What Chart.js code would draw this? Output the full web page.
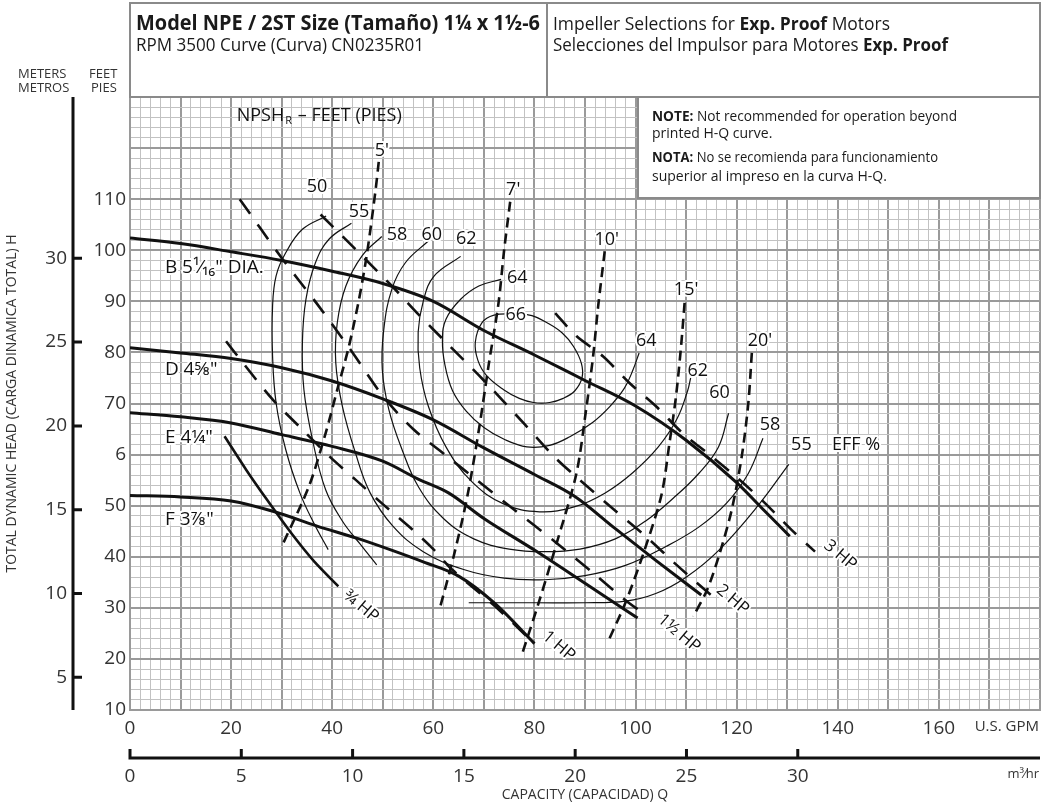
<!DOCTYPE html>
<html>
<head>
<meta charset="utf-8">
<script src="https://cdn.jsdelivr.net/npm/chart.js@4.4.1/dist/chart.umd.min.js"></script>
<style>
  html, body { margin: 0; padding: 0; background: #fff; }
  canvas { display: block; }
</style>
</head>
<body>
<canvas id="pumpChart" width="1047" height="805"></canvas>
<script>
// impeller head-capacity curves, [GPM, feet]
var curveB = [[0,102.4],[10,101.3],[20,99.7],[30,98],[40,95.9],[50,93.5],[60,90],[70,84.3],[80,79.5],[90,74.5],[100,69.5],[110,62.8],[120,54.5],[125,49.5],[130.5,44]];
var curveD = [[0,80.9],[10,79.9],[20,78.8],[30,77],[40,74.4],[50,70.9],[60,66.8],[70,61.3],[80,56.1],[88,51.8],[96,45.5],[104,39.3],[113,32.5]];
var curveE = [[0,68.2],[10,67.4],[20,66.2],[30,63.9],[40,61.6],[50,58.7],[57,55.2],[63,52.5],[70,47.5],[80,41.3],[90,34.8],[100.4,28]];
var curveF = [[0,52],[10,51.7],[20,50.9],[28.6,48.8],[37,46],[45,43.6],[52,41.2],[58,39],[65,36.2],[72,31],[80,23]];

// horsepower lines
var hp34 = [[18.7,63.6],[23,57],[27,51.3],[32,44.5],[36.5,39],[41.2,34.2]];
var hp1 = [[19,82.2],[22.3,78],[28.2,70.8],[34.1,64.9],[39.4,59.7],[44.6,55.1],[50,50.3],[56,45.2],[60,41.5],[63.7,37.5],[72,30.5],[80,23]];
var hp15 = [[21.7,110],[30,98.5],[37,89.5],[44,80],[50,71.5],[56,65],[62.3,60],[68.6,55],[76,49.2],[84,43],[92,36.5],[98,31.5],[102,28.6]];
var hp2 = [[37.7,107],[45,99.8],[52,92.8],[57,87.5],[63,81.5],[70,74.5],[78,66],[84,59.5],[89,55],[96,49],[102,44],[108,38.5],[112,35],[116,31.6]];
var hp3 = [[84.1,87.7],[88.3,83.2],[93.6,79.2],[98.8,74],[104.1,69.4],[109.3,64.2],[114.6,60],[120.3,55.3],[125.6,50.5],[130.8,45.3],[135.5,41]];

// NPSHr lines
var npsh5 = [[49.2,117.3],[48.6,112],[46.9,99.5],[45.3,90.4],[43.3,81.2],[41,72.7],[38.7,64.2],[35.4,53.8],[30.2,42.4]];
var npsh7 = [[75.2,109.5],[74,100],[72.9,89.7],[71,77.9],[69,64.8],[66.7,51.7],[64,40],[61.2,29.6]];
var npsh10 = [[93.9,99.8],[92.6,89],[91.6,79.2],[90.3,69.4],[88.3,56.3],[84.5,43],[81,31.5],[77.6,21.1]];
var npsh15 = [[109.7,89.7],[109,81.2],[108,71.4],[106.7,62.2],[105.1,52],[101.5,40.5],[98,31],[94.7,23.7]];
var npsh20 = [[123,79.9],[122.3,70],[121,59.6],[119,49.1],[116.4,39.9],[114.1,33.4],[111.4,28.3]];

// efficiency contours
var eff50 = [[38.8,106.7],[34.1,104.1],[30.8,99.5],[28.9,95],[28.2,89],[28.2,79.3],[28.9,70.1],[30.8,61],[33.6,52.5],[36.4,46.5],[39.2,41.4]];
var eff55a = [[43.8,105.3],[39.4,102.2],[36.7,97.6],[34.8,90.4],[34.1,81.9],[34.4,72.7],[36.1,62.9],[38.7,53.1],[42,47],[45.5,42.5],[48.8,38.4]];
var eff55b = [[130.3,58.1],[124.3,50.1],[116.4,41.2],[110,36],[104,32.8],[98,31.3],[90,31],[80,31],[67,31]];
var eff58 = [[49.8,102.7],[45.9,98.9],[42.7,93],[41,85.8],[40.7,78],[42,69.5],[44.6,60.3],[47.5,52.5],[52,46],[58,41],[66,37.5],[74,35.8],[82,35.5],[90,36.3],[98,38.3],[106,42],[112.5,45.8],[118,50.5],[122.3,56.3],[125.2,63.2]];
var eff60 = [[59,101.8],[54.5,97.6],[51.8,92.4],[50.2,84.5],[49.9,76.7],[51.2,68.8],[53.8,61],[57.1,53.6],[62,47.5],[68,43.5],[75,41.5],[82,41],[89,41.5],[96,43.5],[102,47],[107.5,51.5],[112.5,56.3],[116.4,61.5],[118.4,68.1]];
var eff62 = [[65.4,98.8],[60.1,94.9],[58,90],[57,84],[57.3,77],[59,69.5],[62.5,61.5],[67.5,54.8],[74,50.3],[81,48.8],[88,49.8],[94,52.5],[99.5,56.5],[104.5,61.5],[108.2,67],[110.3,72.5],[110.9,75]];
var eff64 = [[73.4,94.3],[69,93],[65.4,90.4],[62.5,86.5],[61.8,82.5],[62.3,77.5],[63.8,72.5],[66.5,68.5],[70,65.3],[74,63],[78.5,61.5],[83,61.8],[87,63.5],[91.5,66.3],[94.9,69.4],[97.8,73],[99.5,76.6],[100.7,79.9]];
var eff66 = [[76,87.6],[72,87.3],[69.6,85.8],[68.3,82],[68.8,78.5],[70.5,75.5],[73.9,72.7],[77,71],[79.8,70.2],[83,70.2],[85.7,71],[88,72.5],[89.4,75],[89.3,77.8],[87.7,81.2],[85.5,83.8],[82.5,85.8],[79.5,87.2],[76,87.6]];

// axis ticks
var gpmLabels = [0, 20, 40, 60, 80, 100, 120, 140, 160];
var feetLabels = [10, 20, 30, 40, 50, 60, 70, 80, 90, 100, 110];
var meterTicks = [5, 10, 15, 20, 25, 30];
var m3hTicks = [0, 5, 10, 15, 20, 25, 30];

// text placed on the chart, [text, GPM, feet]
var headLabels = [['B 5\u00b9\u2044\u2081\u2086" DIA.', 6.9, 96.6], ['D 4\u215d"', 6.9, 76.7], ['E 4\u00bc"', 6.9, 63.3], ['F 3\u215e"', 6.9, 47.3]];
var effLabels = [['50', 37, 112.4], ['55', 45.3, 107.5], ['58', 52.8, 103.1], ['60', 59.7, 103.1], ['62', 66.5, 102.2], ['64', 76.6, 94.5], ['66', 76.3, 87.4],
  ['64', 102.1, 82.2], ['62', 112.3, 76.3], ['60', 116.6, 72], ['58', 126.6, 65.8], ['55', 132.8, 61.9], ['EFF %', 143.6, 61.9]];
var npshLabels = [["5'", 49.8, 119.5], ["7'", 75.8, 111.8], ["10'", 94.3, 102.1], ["15'", 110, 92.3], ["20'", 124.6, 82.2]];
var hpLabels = [['\u00be HP', 45.7, 30.3], ['1 HP', 84.8, 22.5], ['1\u00bd HP', 108.6, 25], ['2 HP', 119.2, 31.6], ['3 HP', 140.5, 40.3]];

var FONT = '"Open Sans", "DejaVu Sans", sans-serif';
var GPM_PER_M3H = 4.4029;
var FT_PER_M = 3.28084;

Chart.defaults.font.family = FONT;
Chart.defaults.color = '#333';

var datasets = [];
function addLine(arr, style) {
  datasets.push(Object.assign({
    data: arr.map(function (p) { return { x: p[0], y: p[1] }; }),
    pointRadius: 0, borderColor: '#111', fill: false, tension: 0.4
  }, style));
}

var effStyle = { borderWidth: 1.2, tension: 0.4 };
[eff50, eff55a, eff55b, eff58, eff60, eff62, eff64, eff66].forEach(function (a) { addLine(a, effStyle); });
var npshStyle = { borderWidth: 2.6, borderDash: [10, 6], tension: 0.3 };
[npsh5, npsh7, npsh10, npsh15, npsh20].forEach(function (a) { addLine(a, npshStyle); });
var hpStyle = { borderWidth: 2.6, borderDash: [18, 13], tension: 0.3 };
[hp1, hp15, hp2, hp3].forEach(function (a) { addLine(a, hpStyle); });
addLine(hp34, { borderWidth: 2.6, tension: 0.2 });
var headStyle = { borderWidth: 3, cubicInterpolationMode: 'monotone' };
[curveB, curveD, curveE, curveF].forEach(function (a) { addLine(a, headStyle); });

function gridColor(c) { return c.tick && c.tick.value % 10 === 0 ? '#9a9a9a' : '#c2c2c2'; }
function gridWidth(c) { return c.tick && c.tick.value % 10 === 0 ? 2 : 1; }
function stepTicks(from, to, step) {
  var t = [];
  for (var v = from; v <= to + 1e-9; v += step) t.push({ value: v });
  return t;
}

function font(size, bold) { return (bold ? 'bold ' : '') + size + 'px ' + FONT; }

// runs of [text, bold], squeezed or stretched to a given width
function drawRuns(ctx, runs, x, y, size, width) {
  var total = 0;
  runs.forEach(function (r) { ctx.font = font(size, r[1]); total += ctx.measureText(r[0]).width; });
  ctx.save();
  ctx.translate(x, y);
  if (width) ctx.scale(width / total, 1);
  var cx = 0;
  ctx.textAlign = 'left';
  ctx.textBaseline = 'alphabetic';
  runs.forEach(function (r) {
    ctx.font = font(size, r[1]);
    ctx.fillText(r[0], cx, 0);
    cx += ctx.measureText(r[0]).width;
  });
  ctx.restore();
}

function haloText(ctx, text, x, y, size, align, rot) {
  ctx.save();
  ctx.translate(x, y);
  if (rot) ctx.rotate(rot * Math.PI / 180);
  ctx.font = font(size);
  ctx.textAlign = align || 'center';
  ctx.textBaseline = 'middle';
  ctx.lineJoin = 'round';
  ctx.lineWidth = 4;
  ctx.strokeStyle = '#fff';
  ctx.strokeText(text, 0, 0);
  ctx.fillStyle = '#111';
  ctx.fillText(text, 0, 0);
  ctx.restore();
}

var decor = {
  id: 'decor',
  beforeDraw: function (chart) {
    var ctx = chart.ctx;
    ctx.save();
    ctx.fillStyle = '#fff';
    ctx.fillRect(0, 0, chart.width, chart.height);
    ctx.restore();
  },
  afterDraw: function (chart) {
    var ctx = chart.ctx, area = chart.chartArea;
    var xs = chart.scales.x, ys = chart.scales.y;
    var ym = chart.scales.ym, xm = chart.scales.xm;
    ctx.save();

    // meters axis
    ctx.strokeStyle = '#111';
    ctx.lineWidth = 3;
    ctx.beginPath();
    ctx.moveTo(73, area.top);
    ctx.lineTo(73, area.bottom);
    meterTicks.forEach(function (m) {
      var py = ym.getPixelForValue(m);
      ctx.moveTo(73, py);
      ctx.lineTo(82, py);
    });
    ctx.stroke();

    // m3/hr axis
    ctx.beginPath();
    ctx.moveTo(area.left - 1.5, 758);
    ctx.lineTo(area.right, 758);
    m3hTicks.forEach(function (m) {
      var px = xm.getPixelForValue(m);
      ctx.moveTo(px, 749);
      ctx.lineTo(px, 758);
    });
    ctx.stroke();

    ctx.fillStyle = '#333';
    ctx.font = font(15);
    ctx.textAlign = 'right';
    ctx.textBaseline = 'middle';
    ctx.fillText('U.S. GPM', area.right - 1, 727);
    ctx.font = font(13);
    ctx.fillText('m\u00b3\u2044hr', area.right - 1, 774);

    // left headings
    ctx.textAlign = 'left';
    ctx.textBaseline = 'alphabetic';
    ctx.font = font(13);
    ctx.fillText('METERS', 18, 78);
    ctx.fillText('METROS', 18, 92);
    ctx.fillText('FEET', 89, 78);
    ctx.fillText('PIES', 91, 92);

    // header box
    ctx.strokeStyle = '#8a8a8a';
    ctx.lineWidth = 2;
    ctx.strokeRect(area.left, 3, area.right - area.left, area.top - 3);
    ctx.beginPath();
    ctx.moveTo(547, 3);
    ctx.lineTo(547, area.top);
    ctx.stroke();
    ctx.fillStyle = '#1a1a1a';
    drawRuns(ctx, [['Model NPE / 2ST Size (Tama\u00f1o) 1\u00bc x 1\u00bd-6', true]], 136, 30, 22, 404);
    drawRuns(ctx, [['RPM 3500 Curve (Curva) CN0235R01', false]], 136, 51, 18, 288);
    drawRuns(ctx, [['Impeller Selections for ', false], ['Exp. Proof', true], [' Motors', false]], 553, 30, 18, 337);
    drawRuns(ctx, [['Selecciones del Impulsor para Motores ', false], ['Exp. Proof', true]], 553, 51, 18, 395);

    // note box
    ctx.fillStyle = '#fff';
    ctx.fillRect(638, area.top, area.right - 638, 101);
    ctx.strokeRect(638, area.top, area.right - 638, 101);
    ctx.fillStyle = '#1a1a1a';
    drawRuns(ctx, [['NOTE:', true], [' Not recommended for operation beyond', false]], 652, 121, 14, 305);
    drawRuns(ctx, [['printed H-Q curve.', false]], 652, 138, 14, 0);
    drawRuns(ctx, [['NOTA:', true], [' No se recomienda para funcionamiento', false]], 652, 162, 14, 286);
    drawRuns(ctx, [['superior al impreso en la curva H-Q.', false]], 652, 181, 14, 0);

    // NPSH heading
    var nx = xs.getPixelForValue(21.1), ny = ys.getPixelForValue(126.3);
    ctx.font = font(18);
    ctx.fillStyle = '#111';
    ctx.textBaseline = 'middle';
    ctx.fillText('NPSH', nx, ny);
    var w = ctx.measureText('NPSH').width;
    ctx.font = font(11);
    ctx.fillText('R', nx + w + 1, ny + 5);
    ctx.font = font(18);
    ctx.fillText(' \u2013 FEET (PIES)', nx + w + 9, ny);

    headLabels.forEach(function (l) {
      haloText(ctx, l[0], xs.getPixelForValue(l[1]), ys.getPixelForValue(l[2]), 19, 'left');
    });
    effLabels.forEach(function (l) {
      haloText(ctx, l[0], xs.getPixelForValue(l[1]), ys.getPixelForValue(l[2]), 18);
    });
    npshLabels.forEach(function (l) {
      haloText(ctx, l[0], xs.getPixelForValue(l[1]), ys.getPixelForValue(l[2]), 18);
    });
    hpLabels.forEach(function (l) {
      haloText(ctx, l[0], xs.getPixelForValue(l[1]), ys.getPixelForValue(l[2]), 17, 'center', 40);
    });
    ctx.restore();
  }
};

new Chart(document.getElementById('pumpChart'), {
  type: 'line',
  data: { datasets: datasets },
  plugins: [decor],
  options: {
    responsive: false,
    animation: false,
    events: [],
    devicePixelRatio: 1,
    layout: { padding: { left: 0, right: 3, top: 97, bottom: 0 } },
    plugins: { legend: { display: false }, tooltip: { enabled: false } },
    scales: {
      x: {
        type: 'linear', position: 'bottom', weight: 0, min: 0, max: 180,
        afterBuildTicks: function (s) { s.ticks = stepTicks(0, 180, 2); },
        afterFit: function (s) { s.height = 30; },
        ticks: {
          autoSkip: false, maxRotation: 0, padding: 7, color: '#333', font: { size: 19 },
          callback: function (v) { return gpmLabels.indexOf(v) >= 0 ? String(v) : ''; }
        },
        grid: { color: gridColor, lineWidth: gridWidth, drawTicks: false },
        border: { color: '#9a9a9a', width: 2 }
      },
      xm: {
        type: 'linear', position: 'bottom', weight: 1, min: 0, max: 180 / GPM_PER_M3H,
        afterBuildTicks: function (s) { s.ticks = m3hTicks.map(function (v) { return { value: v }; }); },
        afterFit: function (s) { s.height = 65; },
        ticks: { autoSkip: false, maxRotation: 0, padding: 25, color: '#333', font: { size: 19 } },
        grid: { display: false, drawTicks: false },
        border: { display: false },
        title: { display: true, text: 'CAPACITY (CAPACIDAD) Q', color: '#333', font: { size: 14 }, padding: { top: 0, bottom: 2 } }
      },
      y: {
        type: 'linear', position: 'left', weight: 0, min: 10, max: 130,
        afterBuildTicks: function (s) { s.ticks = stepTicks(10, 130, 2); },
        afterFit: function (s) { s.width = 57; },
        ticks: {
          autoSkip: false, padding: 4, color: '#333', font: { size: 19 },
          callback: function (v) { return feetLabels.indexOf(v) >= 0 ? (v === 60 ? '6' : String(v)) : ''; }
        },
        grid: { color: gridColor, lineWidth: gridWidth, drawTicks: false },
        border: { color: '#9a9a9a', width: 2 }
      },
      ym: {
        type: 'linear', position: 'left', weight: 1, min: 10 / FT_PER_M, max: 130 / FT_PER_M,
        afterBuildTicks: function (s) { s.ticks = meterTicks.map(function (v) { return { value: v }; }); },
        afterFit: function (s) { s.width = 73; },
        ticks: { autoSkip: false, padding: 6, color: '#333', font: { size: 19 } },
        grid: { display: false, drawTicks: false },
        border: { display: false },
        title: { display: true, text: 'TOTAL DYNAMIC HEAD (CARGA DINAMICA TOTAL) H', color: '#333', font: { size: 14 }, padding: { top: 4, bottom: 0 } }
      }
    }
  }
});
</script>
</body>
</html>
